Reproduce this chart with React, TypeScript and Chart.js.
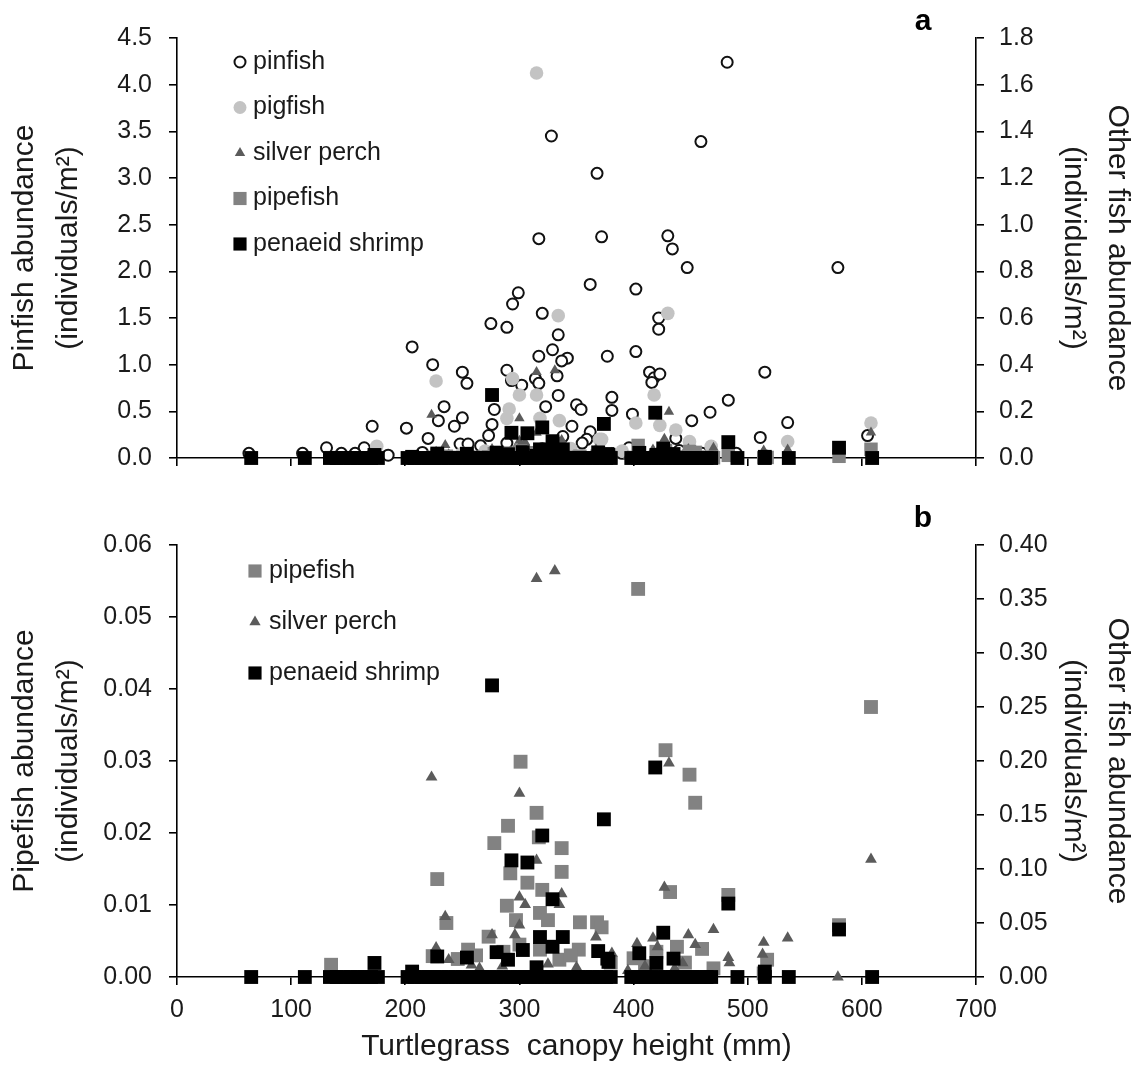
import React, { useEffect, useRef } from 'react';
import { Chart, registerables } from 'chart.js';

Chart.register(...registerables);

const FONT = '"Liberation Sans", Arial, Helvetica, sans-serif';

// canopy height (mm), pinfish abundance (individuals/m2)
const pinfish: [number, number][] = [
  [482, 4.24], [328, 3.45], [459, 3.39], [368, 3.05], [317, 2.35], [372, 2.37], [430, 2.38], [434, 2.24], [447, 2.04], [579, 2.04],
  [362, 1.86], [402, 1.81], [299, 1.77], [294, 1.65], [320, 1.55], [275, 1.44], [289, 1.40], [206, 1.19], [422, 1.50], [422, 1.38],
  [334, 1.32], [329, 1.16], [402, 1.14], [317, 1.09], [342, 1.07], [337, 1.04], [377, 1.09], [224, 1.00], [250, 0.92], [254, 0.80],
  [289, 0.94], [293, 0.83], [314, 0.85], [317, 0.80], [333, 0.88], [414, 0.92], [418, 0.86], [423, 0.90], [416, 0.81], [515, 0.92],
  [302, 0.78], [334, 0.67], [234, 0.55], [250, 0.43], [243, 0.34], [220, 0.21], [201, 0.32], [171, 0.34], [278, 0.52], [276, 0.36],
  [273, 0.24], [323, 0.55], [350, 0.57], [354, 0.52], [381, 0.65], [381, 0.51], [399, 0.47], [346, 0.34], [362, 0.28], [359, 0.20],
  [229, 0.40], [131, 0.11], [164, 0.11], [266, 0.13], [248, 0.15], [255, 0.15], [144, 0.05], [156, 0.05], [63, 0.05], [110, 0.05],
  [355, 0.16], [289, 0.16], [483, 0.62], [467, 0.49], [451, 0.40], [535, 0.38], [511, 0.22], [605, 0.24], [437, 0.21], [396, 0.11],
  [338, 0.23], [440, 0.08], [460, 0.05], [300, 0.08], [320, 0.10], [215, 0.06], [185, 0.03], [390, 0.05], [490, 0.05],
];

// canopy height (mm), pigfish abundance (individuals/m2)
const pigfish: [number, number][] = [
  [315, 1.65], [334, 0.61], [430, 0.62], [227, 0.33], [294, 0.34], [300, 0.27], [315, 0.27], [418, 0.27], [291, 0.21], [335, 0.16],
  [318, 0.17], [289, 0.17], [372, 0.08], [175, 0.05], [423, 0.14], [402, 0.15], [437, 0.12], [449, 0.07], [468, 0.05], [535, 0.07],
  [608, 0.15], [370, 0.08], [250, 0.02], [270, 0.03], [345, 0.04], [390, 0.03], [515, 0.01],
];

// canopy height (mm), silver perch abundance (individuals/m2)
const silverPerch: [number, number][] = [
  [315, 0.369], [331, 0.376], [223, 0.185], [300, 0.170], [315, 0.108], [300, 0.074], [305, 0.067], [337, 0.077], [335, 0.067], [235, 0.056],
  [300, 0.048], [296, 0.039], [276, 0.039], [367, 0.037], [227, 0.027], [238, 0.016], [258, 0.011], [381, 0.022], [431, 0.198], [608, 0.109],
  [427, 0.083], [470, 0.044], [448, 0.039], [454, 0.030], [535, 0.036], [514, 0.032], [513, 0.021], [403, 0.031], [417, 0.036], [421, 0.028],
  [483, 0.018], [484, 0.013], [579, 0.0], [443, 0.013], [265, 0.008], [285, 0.010], [325, 0.012], [350, 0.009], [395, 0.006], [410, 0.010],
  [436, 0.008],
];

// canopy height (mm), pipefish abundance (individuals/m2)
const pipefish: [number, number][] = [
  [404, 0.0539], [608, 0.0375], [428, 0.0315], [449, 0.0281], [454, 0.0242], [301, 0.0299], [315, 0.0228], [290, 0.0210], [278, 0.0186], [317, 0.0194],
  [337, 0.0179], [337, 0.0146], [292, 0.0144], [307, 0.0131], [320, 0.0121], [228, 0.0136], [289, 0.0099], [297, 0.0079], [318, 0.0089], [325, 0.0079],
  [236, 0.0075], [353, 0.0076], [368, 0.0076], [372, 0.0069], [273, 0.0056], [255, 0.0038], [352, 0.0038], [135, 0.0017], [224, 0.0029], [318, 0.0038],
  [335, 0.0024], [432, 0.0118], [483, 0.0114], [460, 0.0039], [438, 0.0042], [580, 0.0072], [400, 0.0026], [517, 0.0024], [246, 0.0025], [262, 0.0030],
  [286, 0.0035], [300, 0.0045], [345, 0.0030], [380, 0.0020], [410, 0.0015], [420, 0.0035], [445, 0.0020], [470, 0.0012], [514, 0.0005],
];

// canopy height (mm), penaeid shrimp abundance (individuals/m2)
const shrimp: [number, number][] = [
  [276, 0.270], [419, 0.194], [374, 0.146], [320, 0.131], [293, 0.108], [307, 0.106], [329, 0.072], [483, 0.068], [580, 0.044], [426, 0.041],
  [318, 0.037], [338, 0.037], [329, 0.028], [228, 0.019], [254, 0.018], [173, 0.013], [303, 0.025], [280, 0.023], [369, 0.024], [377, 0.017],
  [206, 0.005], [290, 0.016], [315, 0.009], [405, 0.022], [435, 0.017], [420, 0.013], [515, 0.005], [378, 0.014],
  [65, 0], [112, 0], [134, 0], [140, 0], [146, 0], [152, 0], [158, 0], [164, 0], [170, 0], [176, 0],
  [202, 0], [208, 0], [214, 0], [220, 0], [226, 0], [232, 0], [238, 0], [244, 0], [250, 0], [256, 0],
  [262, 0], [268, 0], [274, 0], [280, 0], [286, 0], [292, 0], [298, 0], [304, 0], [310, 0], [316, 0],
  [322, 0], [328, 0], [334, 0], [340, 0], [346, 0], [352, 0], [358, 0], [364, 0], [370, 0], [376, 0],
  [380, 0], [398, 0], [404, 0], [410, 0], [416, 0], [422, 0], [428, 0], [434, 0], [440, 0], [446, 0],
  [452, 0], [458, 0], [464, 0], [468, 0], [491, 0], [515, 0], [536, 0], [609, 0],
];

const xTicks = { min: 0, max: 700, step: 100 };
const pinfishAxis = { min: 0, max: 4.5, step: 0.5 };
const otherAxisA = { min: 0, max: 1.8, step: 0.2 };
const pipefishAxis = { min: 0, max: 0.06, step: 0.01 };
const otherAxisB = { min: 0, max: 0.4, step: 0.05 };

const COLORS = {
  pinfishFill: '#ffffff',
  pinfishLine: '#111111',
  pigfish: '#c3c3c3',
  silverPerch: '#5b5b5b',
  pipefish: '#828282',
  shrimp: '#000000',
};

type Shape = 'circle' | 'triangle' | 'rect';
type LegendItem = { label: string; shape: Shape; fill: string; stroke: string; r: number; lw: number };

function drawMarker(ctx: CanvasRenderingContext2D, it: LegendItem, x: number, y: number) {
  ctx.beginPath();
  if (it.shape === 'circle') {
    ctx.arc(x, y, it.r, 0, Math.PI * 2);
  } else if (it.shape === 'triangle') {
    ctx.moveTo(x, y - it.r);
    ctx.lineTo(x + 0.866 * it.r, y + 0.5 * it.r);
    ctx.lineTo(x - 0.866 * it.r, y + 0.5 * it.r);
    ctx.closePath();
  } else {
    const s = Math.SQRT1_2 * it.r;
    ctx.rect(x - s, y - s, 2 * s, 2 * s);
  }
  ctx.fillStyle = it.fill;
  ctx.fill();
  if (it.lw > 0) {
    ctx.lineWidth = it.lw;
    ctx.strokeStyle = it.stroke;
    ctx.stroke();
  }
}

function makeOverlay(cfg: { items: LegendItem[]; markerX: number; textX: number; y0: number; dy: number; panel: string; panelX: number; panelY: number }) {
  return {
    id: 'overlay',
    afterDraw(chart: any) {
      const ctx: CanvasRenderingContext2D = chart.ctx;
      ctx.save();
      cfg.items.forEach((it, i) => {
        const y = cfg.y0 + i * cfg.dy;
        drawMarker(ctx, it, cfg.markerX, y);
        ctx.fillStyle = '#1a1a1a';
        ctx.font = `25px ${FONT}`;
        ctx.textAlign = 'left';
        ctx.textBaseline = 'middle';
        ctx.fillText(it.label, cfg.textX, y);
      });
      ctx.font = `bold 30px ${FONT}`;
      ctx.textAlign = 'center';
      ctx.textBaseline = 'alphabetic';
      ctx.fillStyle = '#000';
      ctx.fillText(cfg.panel, cfg.panelX, cfg.panelY);
      ctx.restore();
    },
  };
}

const pts = (arr: [number, number][]) => arr.map(([x, y]) => ({ x, y }));

const axisLine = { display: true, color: '#000', width: 1.6 };
const tickGrid = { display: true, drawOnChartArea: false, drawTicks: true, tickLength: 8, color: '#000', lineWidth: 1.6 };
const tickFont = { family: FONT, size: 25 };
const titleFont = { family: FONT, size: 30, lineHeight: 1.45 };

function xScale(showLabels: boolean, height: number) {
  return {
    type: 'linear',
    position: 'bottom',
    min: xTicks.min,
    max: xTicks.max,
    ticks: { stepSize: xTicks.step, display: showLabels, font: tickFont, color: '#1a1a1a', padding: 10, maxRotation: 0 },
    grid: tickGrid,
    border: axisLine,
    title: showLabels
      ? { display: true, text: 'Turtlegrass  canopy height (mm)', font: { family: FONT, size: 30, lineHeight: 1.2 }, color: '#1a1a1a', padding: { top: 0, bottom: 0 } }
      : { display: false },
    afterFit: (s: any) => { s.height = height; },
  };
}

function yScale(pos: 'left' | 'right', ax: { min: number; max: number; step: number }, decimals: number, title: string[], width: number) {
  return {
    type: 'linear',
    position: pos,
    min: ax.min,
    max: ax.max,
    ticks: {
      stepSize: ax.step,
      font: tickFont,
      color: '#1a1a1a',
      padding: pos === 'left' ? 17 : 15,
      callback: (v: any) => Number(v).toFixed(decimals),
    },
    grid: tickGrid,
    border: axisLine,
    title: { display: true, text: title, font: titleFont, color: '#1a1a1a', padding: { top: pos === 'left' ? 3 : 0, bottom: 0 } },
    afterFit: (s: any) => { s.width = width; },
  };
}

const baseOptions = {
  responsive: false,
  animation: false,
  devicePixelRatio: 1,
  events: [],
  plugins: { legend: { display: false }, tooltip: { enabled: false } },
};

function ChartA() {
  const ref = useRef<HTMLCanvasElement>(null);
  useEffect(() => {
    if (!ref.current) return;
    const ds = (label: string, data: [number, number][], axis: string, style: Shape, fill: string, stroke: string, r: number, bw: number) => ({
      label, data: pts(data), yAxisID: axis, pointStyle: style, pointRadius: r, pointBackgroundColor: fill,
      pointBorderColor: stroke, pointBorderWidth: bw, clip: false, showLine: false,
    });
    const chart = new Chart(ref.current, {
      type: 'scatter',
      data: {
        datasets: [
          ds('penaeid shrimp', shrimp, 'y2', 'rect', COLORS.shrimp, COLORS.shrimp, 9.8, 0),
          ds('pipefish', pipefish, 'y2', 'rect', COLORS.pipefish, COLORS.pipefish, 9.5, 0),
          ds('silver perch', silverPerch, 'y2', 'triangle', COLORS.silverPerch, COLORS.silverPerch, 6, 0),
          ds('pigfish', pigfish, 'y2', 'circle', COLORS.pigfish, COLORS.pigfish, 6.8, 0),
          ds('pinfish', pinfish, 'y', 'circle', COLORS.pinfishFill, COLORS.pinfishLine, 5.5, 2),
        ],
      },
      options: {
        ...baseOptions,
        layout: { padding: { top: 38, left: 0, right: 0, bottom: 0 } },
        scales: {
          x: xScale(false, 18),
          y: yScale('left', pinfishAxis, 1, ['Pinfish abundance', '(individuals/m²)'], 177),
          y2: yScale('right', otherAxisA, 1, ['Other fish abundance', '(individuals/m²)'], 163),
        },
      } as any,
      plugins: [
        makeOverlay({
          items: [
            { label: 'pinfish', shape: 'circle', fill: COLORS.pinfishFill, stroke: COLORS.pinfishLine, r: 5.5, lw: 2 },
            { label: 'pigfish', shape: 'circle', fill: COLORS.pigfish, stroke: COLORS.pigfish, r: 6.5, lw: 0 },
            { label: 'silver perch', shape: 'triangle', fill: COLORS.silverPerch, stroke: COLORS.silverPerch, r: 6, lw: 0 },
            { label: 'pipefish', shape: 'rect', fill: COLORS.pipefish, stroke: COLORS.pipefish, r: 9.3, lw: 0 },
            { label: 'penaeid shrimp', shape: 'rect', fill: COLORS.shrimp, stroke: COLORS.shrimp, r: 9.3, lw: 0 },
          ],
          markerX: 240, textX: 253, y0: 62, dy: 45.5, panel: 'a', panelX: 923, panelY: 30,
        }),
      ],
    });
    return () => chart.destroy();
  }, []);
  return <canvas ref={ref} width={1139} height={490} style={{ position: 'absolute', left: 0, top: 0 }} />;
}

function ChartB() {
  const ref = useRef<HTMLCanvasElement>(null);
  useEffect(() => {
    if (!ref.current) return;
    const ds = (label: string, data: [number, number][], axis: string, style: Shape, fill: string, r: number) => ({
      label, data: pts(data), yAxisID: axis, pointStyle: style, pointRadius: r, pointBackgroundColor: fill,
      pointBorderColor: fill, pointBorderWidth: 0, clip: false, showLine: false,
    });
    const chart = new Chart(ref.current, {
      type: 'scatter',
      data: {
        datasets: [
          ds('penaeid shrimp', shrimp, 'y2', 'rect', COLORS.shrimp, 9.8),
          ds('silver perch', silverPerch, 'y2', 'triangle', COLORS.silverPerch, 6.8),
          ds('pipefish', pipefish, 'y', 'rect', COLORS.pipefish, 9.8),
        ],
      },
      options: {
        ...baseOptions,
        layout: { padding: { top: 45, left: 0, right: 0, bottom: 0 } },
        scales: {
          x: xScale(true, 88),
          y: yScale('left', pipefishAxis, 2, ['Pipefish abundance', '(individuals/m²)'], 177),
          y2: yScale('right', otherAxisB, 2, ['Other fish abundance', '(individuals/m²)'], 163),
        },
      } as any,
      plugins: [
        makeOverlay({
          items: [
            { label: 'pipefish', shape: 'rect', fill: COLORS.pipefish, stroke: COLORS.pipefish, r: 9.3, lw: 0 },
            { label: 'silver perch', shape: 'triangle', fill: COLORS.silverPerch, stroke: COLORS.silverPerch, r: 6.5, lw: 0 },
            { label: 'penaeid shrimp', shape: 'rect', fill: COLORS.shrimp, stroke: COLORS.shrimp, r: 9.3, lw: 0 },
          ],
          markerX: 255, textX: 269, y0: 71, dy: 51, panel: 'b', panelX: 923, panelY: 27,
        }),
      ],
    });
    return () => chart.destroy();
  }, []);
  return <canvas ref={ref} width={1139} height={565} style={{ position: 'absolute', left: 0, top: 500 }} />;
}

export default function App() {
  return (
    <div style={{ position: 'absolute', left: 0, top: 0, width: 1139, height: 1065, background: '#fff' }}>
      <ChartA />
      <ChartB />
    </div>
  );
}
